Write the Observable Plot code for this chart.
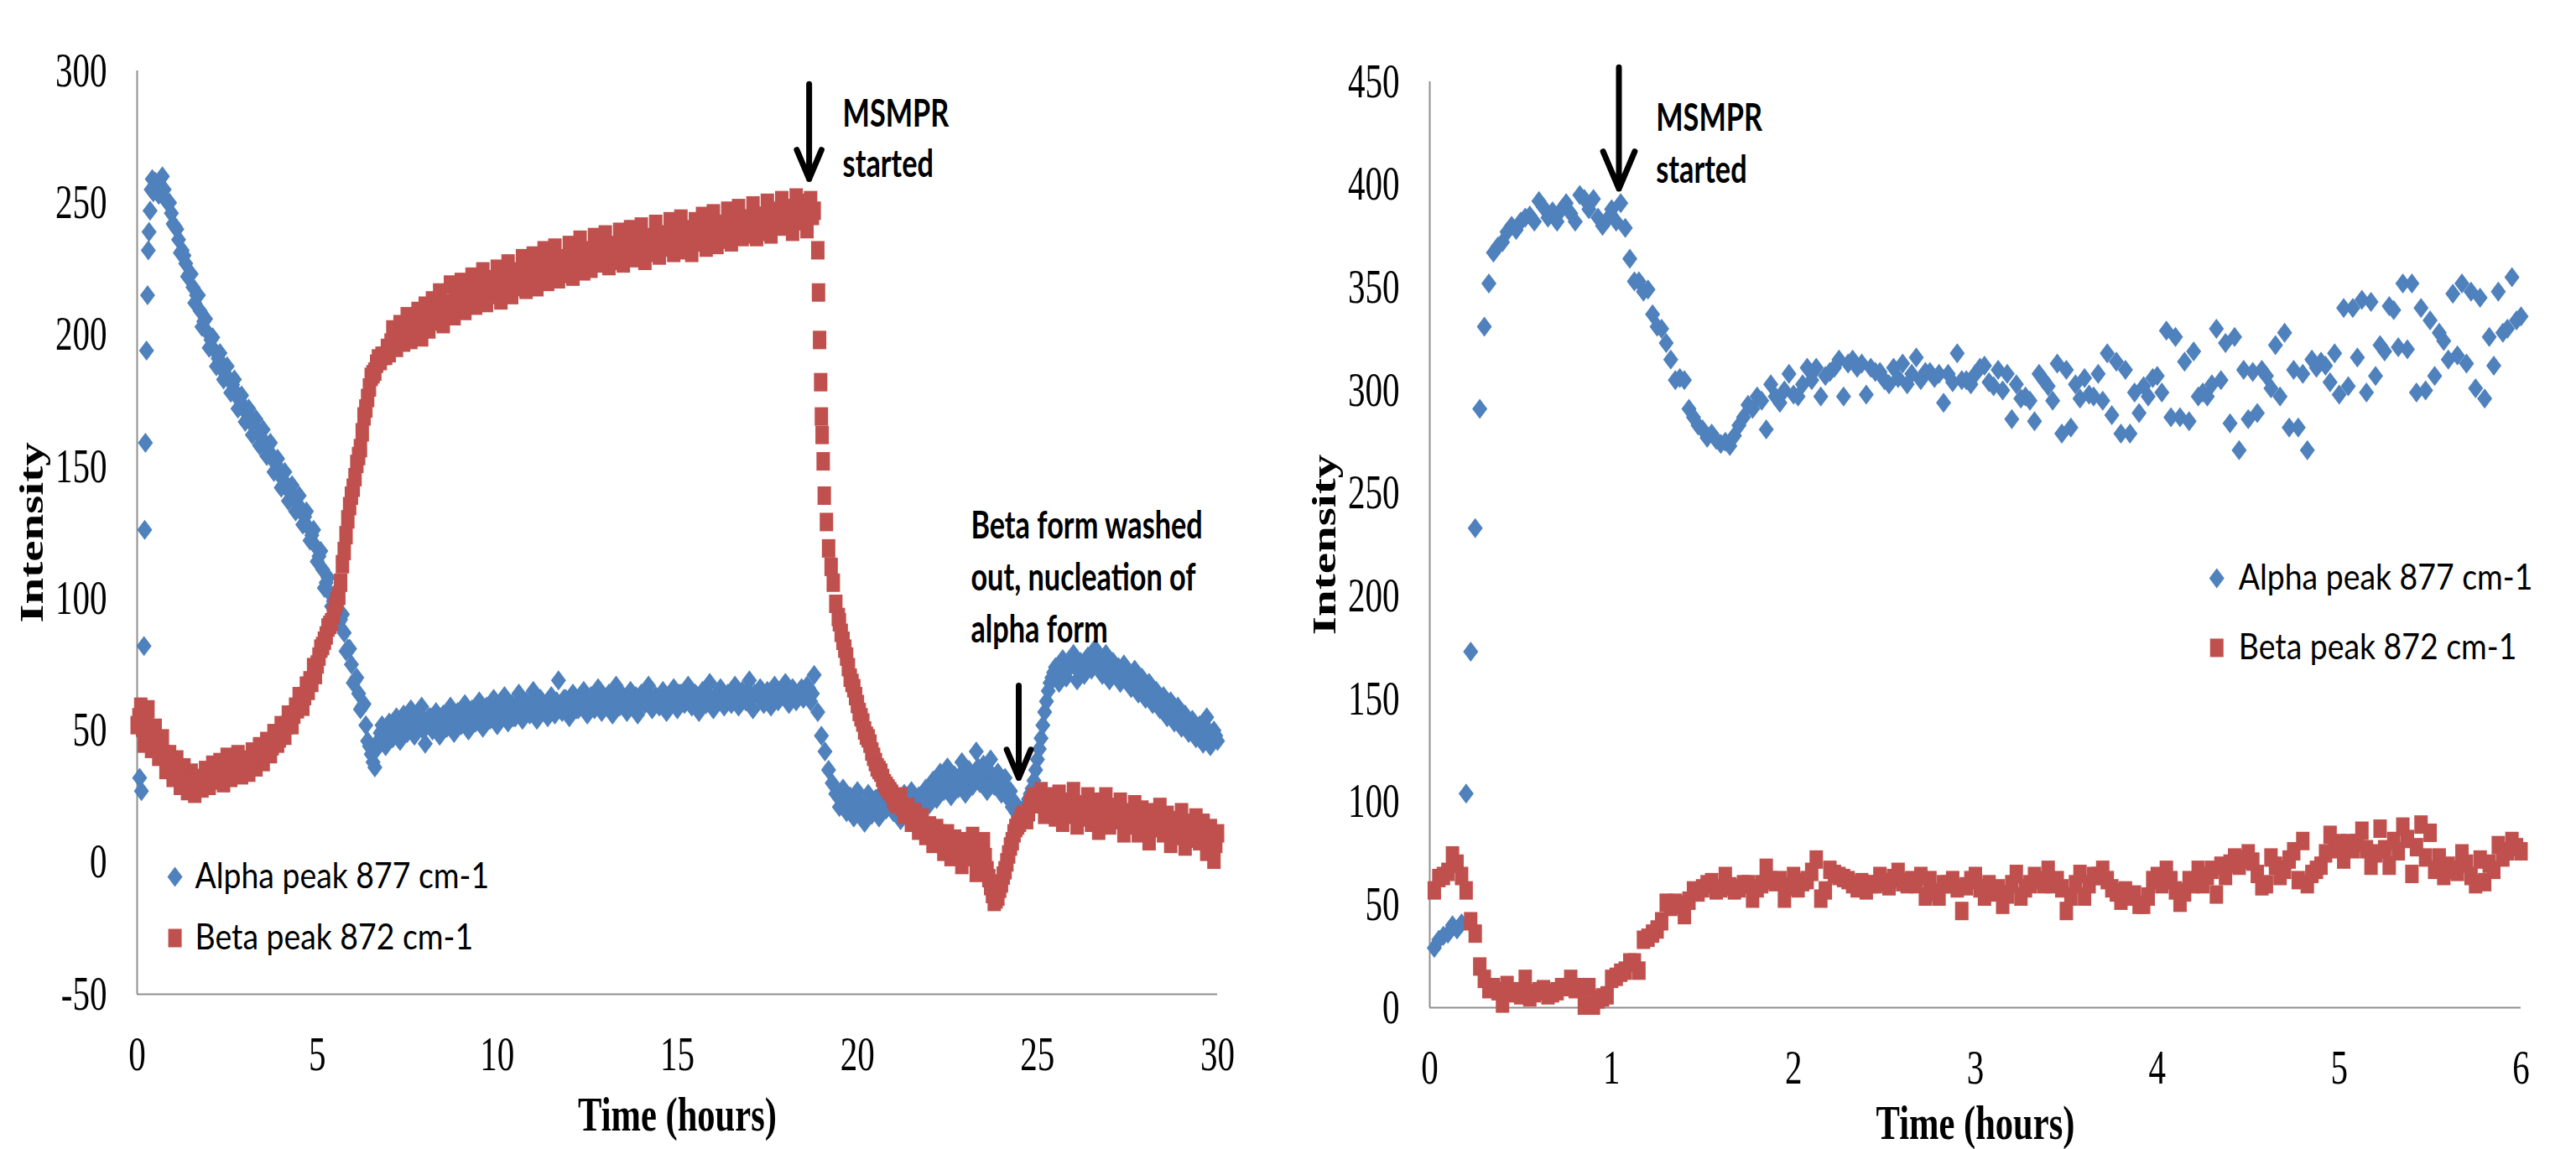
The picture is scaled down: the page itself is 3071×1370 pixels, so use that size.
<!DOCTYPE html>
<html>
<head>
<meta charset="utf-8">
<script src="https://cdn.jsdelivr.net/npm/d3@7"></script>
<script src="https://cdn.jsdelivr.net/npm/@observablehq/plot@0.6"></script>
<style>
  html, body { margin: 0; padding: 0; background: #fff; }
  #wrap { position: relative; width: 3071px; height: 1370px; overflow: hidden; background: #fff; }
  #left { position: absolute; left: 0; top: 0; }
  #right { position: absolute; left: 1520px; top: 0; }
</style>
</head>
<body>
<div id="wrap"><div id="left"></div><div id="right"></div></div>
<script>
// ---------------- DATA ----------------
const seriesNames = ["Alpha peak 877 cm-1", "Beta peak 872 cm-1"];
const xTitle = "Time (hours)";
const yTitle = "Intensity";

const leftXTicks = [0, 5, 10, 15, 20, 25, 30];
const leftYTicks = [-50, 0, 50, 100, 150, 200, 250, 300];
const rightXTicks = [0, 1, 2, 3, 4, 5, 6];
const rightYTicks = [0, 50, 100, 150, 200, 250, 300, 350, 400, 450];

// Left panel (30 h run) - alpha, first fast readings (hours / intensity)
const leftAlphaEarlyT = [0.07, 0.12, 0.19, 0.21, 0.23, 0.26, 0.29, 0.31, 0.33, 0.36, 0.39, 0.42, 0.45];
const leftAlphaEarlyV = [32, 27, 82, 126, 159, 194, 215, 232, 239, 247, 255, 259, 254];
// alpha, from 0.5 h every 0.1 h
const leftAlphaStart = 0.5, leftStep = 0.1;
const leftAlphaMain = [
  258, 253, 260, 251, 250, 242, 240, 231, 230, 222,
  223, 212, 215, 203, 206, 195, 199, 188, 193, 183,
  188, 178, 183, 172, 177, 167, 172, 162, 168, 158,
  164, 154, 159, 148, 153, 142, 148, 137, 143, 133,
  139, 128, 133, 122, 126, 114, 118, 104, 108, 97,
  102, 91, 94, 80, 81, 68, 70, 58, 60, 46,
  41, 36, 46, 52, 44, 53, 47, 55, 46, 56,
  49, 58, 48, 54, 59, 45, 55, 50, 57, 48,
  56, 51, 59, 49, 57, 52, 60, 50, 58, 53,
  61, 51, 59, 54, 62, 52, 58, 63, 53, 60,
  55, 64, 54, 61, 56, 65, 54, 62, 57, 55,
  63, 56, 69, 57, 62, 55, 64, 58, 61, 65,
  56, 63, 58, 66, 57, 62, 64, 56, 67, 59,
  63, 57, 65, 59, 56, 64, 60, 67, 58, 63,
  59, 65, 57, 63, 66, 58, 64, 60, 67, 59,
  64, 57, 65, 60, 68, 58, 63, 66, 59, 64,
  60, 67, 59, 65, 61, 69, 58, 64, 66, 60,
  65, 59, 67, 61, 64, 68, 60, 66, 61, 65,
  62, 67, 61, 71, 57, 48, 42, 35, 30, 26,
  21, 28, 19, 25, 17, 27, 20, 15, 26, 18,
  24, 17, 27, 20, 29, 19, 25, 16, 26, 21,
  27, 19, 25, 20, 28, 22, 31, 24, 34, 27,
  36, 25, 33, 28, 38, 26, 35, 29, 42, 30,
  37, 27, 39, 29, 34, 26, 32, 24, 21, 19,
  17, 20, 22, 26, 31, 39, 47, 57, 65, 70,
  74, 68, 77, 70, 75, 79, 69, 76, 71, 78,
  73, 81, 75, 71, 79, 69, 76, 71, 68, 75,
  69, 66, 73, 64, 70, 62, 68, 60, 65, 58,
  63, 55, 61, 53, 59, 51, 56, 49, 54, 47,
  52, 45, 55, 44, 50, 46
];
// alpha, in-between readings 0.55 h .. 18.75 h every 0.1 h
const leftAlphaFillStartA = 0.55;
const leftAlphaFillA = [
  257, 256, 255, 250, 246, 241, 236, 232, 227, 223,
  218, 215, 209, 205, 201, 198, 194, 191, 188, 185,
  183, 181, 178, 175, 172, 170, 167, 165, 163, 161,
  159, 156, 153, 151, 148, 145, 142, 140, 138, 136,
  133, 131, 127, 124, 120, 116, 111, 106, 102, 99,
  96, 92, 87, 81, 75, 69, 64, 59, 52, 44,
  38, 43, 49, 47, 51, 49, 52, 50, 53, 51,
  54, 52, 51, 56, 50, 53, 55, 52, 54, 51,
  54, 56, 53, 55, 52, 57, 54, 56, 53, 55,
  57, 55, 56, 58, 54, 59, 56, 57, 59, 55,
  59, 57, 60, 58, 61, 57, 59, 60, 57, 61,
  59, 61, 58, 62, 59, 60, 62, 58, 61, 59,
  61, 59, 62, 60, 63, 59, 61, 62, 60, 63,
  60, 62, 61, 63, 60, 62, 64, 61, 62, 60,
  62, 61, 63, 60, 62, 64, 61, 63, 62, 64,
  61, 63, 62, 64, 61, 63, 62, 64, 63, 61,
  63, 64, 62, 63, 65, 62, 64, 63, 65, 62,
  64, 62, 65, 63, 64, 62, 65, 63, 64, 66,
  65, 66, 64
];
// alpha, in-between readings 19.55 h .. 29.95 h every 0.1 h
const leftAlphaFillStartB = 19.55;
const leftAlphaFillB = [
  24, 23, 22, 21, 22, 23, 18, 20, 22, 21,
  21, 22, 23, 24, 22, 23, 21, 20, 23, 24,
  23, 22, 25, 24, 25, 26, 27, 28, 29, 31,
  30, 29, 31, 33, 32, 31, 32, 33, 36, 35,
  32, 34, 33, 31, 30, 29, 28, 27, 23, 21,
  19, 21, 24, 28, 35, 43, 52, 61, 68, 72,
  71, 73, 74, 73, 76, 74, 73, 72, 74, 75,
  77, 78, 74, 75, 73, 72, 73, 74, 71, 72,
  68, 70, 69, 67, 66, 65, 64, 63, 62, 61,
  59, 58, 57, 56, 55, 54, 53, 52, 51, 50,
  49, 48, 50, 47, 48
];
// beta, 0 h .. 18.8 h every 0.1 h
const leftBetaStartA = 0;
const leftBetaA = [
  52, 59, 45, 58, 43, 51, 40, 47, 35, 41,
  32, 39, 29, 36, 27, 34, 26, 32, 28, 35,
  29, 37, 31, 38, 30, 40, 32, 37, 41, 33,
  39, 34, 42, 36, 44, 38, 46, 41, 49, 45,
  52, 48, 56, 52, 59, 63, 59, 67, 69, 74,
  75, 81, 84, 89, 91, 97, 101, 113, 124, 135,
  142, 151, 157, 169, 176, 184, 186, 191, 192, 192,
  193, 202, 195, 204, 197, 207, 198, 205, 209, 199,
  211, 202, 213, 205, 216, 204, 212, 219, 207, 215,
  220, 209, 217, 222, 211, 220, 224, 212, 221, 215,
  225, 213, 222, 227, 215, 224, 218, 229, 217, 225,
  230, 218, 226, 232, 220, 228, 233, 221, 229, 223,
  234, 222, 230, 236, 224, 232, 225, 237, 227, 234,
  238, 226, 234, 228, 239, 227, 235, 240, 229, 236,
  241, 228, 237, 231, 242, 230, 238, 233, 243, 231,
  238, 244, 232, 240, 231, 243, 235, 245, 233, 241,
  246, 234, 242, 236, 247, 235, 243, 248, 237, 244,
  238, 249, 237, 245, 239, 250, 238, 247, 241, 251,
  241, 248, 239, 252, 243, 250, 240, 251, 247
];
// beta, in-between readings 0.05 h .. 18.75 h every 0.1 h
const leftBetaFillStartA = 0.05;
const leftBetaFillA = [
  55, 51, 52, 49, 47, 45, 43, 41, 38, 37,
  35, 33, 32, 31, 30, 30, 29, 30, 31, 31,
  32, 33, 34, 34, 35, 35, 36, 37, 37, 38,
  37, 38, 39, 40, 41, 42, 43, 44, 46, 47,
  50, 52, 54, 56, 58, 61, 63, 65, 68, 71,
  78, 82, 86, 90, 94, 99, 106, 118, 130, 139,
  146, 154, 163, 172, 180, 185, 189, 190, 192, 195,
  197, 199, 198, 201, 200, 202, 201, 204, 203, 206,
  205, 207, 209, 208, 210, 209, 211, 210, 213, 212,
  214, 213, 216, 215, 217, 216, 218, 217, 219, 218,
  220, 219, 221, 220, 222, 221, 223, 220, 222, 224,
  223, 225, 222, 226, 224, 225, 227, 224, 226, 228,
  225, 229, 227, 228, 230, 228, 230, 229, 231, 230,
  232, 231, 233, 230, 232, 233, 232, 234, 231, 235,
  233, 234, 236, 235, 234, 236, 235, 237, 234, 236,
  238, 237, 236, 239, 237, 238, 240, 237, 239, 241,
  238, 240, 239, 242, 240, 241, 240, 242, 244, 241,
  243, 242, 244, 243, 245, 243, 245, 244, 246, 243,
  245, 247, 244, 246, 245, 246, 248, 245
];
// beta, fast fall after MSMPR start
const leftBetaDropT = [18.9, 18.92, 18.95, 18.98, 19.0, 19.02, 19.05, 19.08, 19.14, 19.2, 19.27, 19.33, 19.4, 19.47];
const leftBetaDropV = [232, 216, 198, 182, 169, 162, 152, 139, 129, 119, 112, 106, 98, 93];
// beta, 19.5 h .. 30 h every 0.1 h
const leftBetaStartB = 19.5;
const leftBetaB = [
  91, 84, 78, 70, 66, 60, 55, 50, 47, 42,
  38, 35, 32, 29, 27, 24, 22, 25, 18, 21,
  15, 19, 12, 17, 10, 14, 7, 13, 9, 4,
  11, 2, 9, 5, -1, 8, 2, 10, -4, 6,
  8, -3, -9, -15, -13, -8, -3, 3, 8, 13,
  15, 18, 16, 22, 25, 22, 27, 18, 25, 20,
  17, 26, 15, 23, 18, 27, 14, 22, 17, 25,
  15, 23, 12, 20, 25, 14, 21, 16, 23, 11,
  19, 14, 22, 11, 20, 15, 8, 19, 13, 21,
  11, 18, 7, 16, 10, 19, 6, 15, 9, 17,
  8, 15, 4, 13, 1, 11
];
// beta, in-between readings 19.55 h .. 29.95 h every 0.1 h
const leftBetaFillStartB = 19.55;
const leftBetaFillB = [
  87, 81, 74, 68, 63, 57, 53, 48, 45, 40,
  36, 34, 30, 28, 26, 23, 23, 21, 19, 18,
  17, 15, 15, 13, 12, 11, 10, 11, 7, 8,
  6, 7, 5, 3, 4, 5, 6, 2, 1, 3,
  2, -6, -12, -14, -10, -5, 0, 6, 11, 14,
  17, 17, 19, 23, 23, 24, 22, 22, 21, 20,
  21, 20, 20, 21, 22, 21, 19, 19, 21, 20,
  19, 18, 17, 20, 19, 18, 17, 19, 16, 15,
  17, 16, 15, 16, 17, 14, 13, 15, 16, 15,
  14, 13, 12, 12, 14, 13, 11, 11, 12, 12,
  11, 10, 9, 8, 7
];

// Right panel (6 h run), readings every 0.025 h from 0.025 h
const rightStart = 0.025, rightStep = 0.025;
const rightAlpha = [
  29, 33, 35, 36, 40, 38, 41, 104, 173, 233,
  291, 331, 352, 367, 370, 372, 377, 380, 378, 382,
  384, 385, 382, 392, 389, 384, 387, 382, 388, 391,
  386, 382, 395, 393, 388, 393, 384, 380, 383, 388,
  382, 391, 379, 364, 353, 353, 348, 349, 337, 331,
  330, 323, 315, 305, 306, 305, 291, 287, 283, 281,
  277, 279, 276, 274, 275, 273, 278, 283, 287, 293,
  291, 297, 295, 281, 303, 297, 294, 300, 308, 298,
  297, 303, 311, 305, 311, 297, 307, 309, 311, 315,
  297, 313, 315, 311, 313, 298, 311, 309, 309, 305,
  303, 311, 306, 313, 303, 308, 316, 305, 309, 309,
  306, 308, 294, 308, 304, 318, 305, 305, 303, 308,
  311, 312, 304, 302, 310, 300, 308, 286, 303, 296,
  297, 295, 285, 308, 305, 302, 295, 313, 279, 310,
  282, 303, 296, 306, 298, 297, 308, 295, 318, 288,
  314, 279, 310, 279, 299, 289, 302, 297, 306, 307,
  299, 329, 287, 326, 287, 314, 285, 319, 297, 299,
  297, 303, 330, 305, 323, 284, 326, 271, 310, 286,
  309, 289, 310, 307, 301, 322, 297, 328, 282, 310,
  282, 308, 271, 315, 311, 314, 312, 304, 318, 298,
  340, 302, 340, 316, 344, 299, 343, 307, 322, 319,
  341, 339, 321, 352, 320, 352, 299, 340, 300, 334,
  307, 328, 324, 315, 347, 317, 352, 313, 348, 301,
  345, 296, 326, 312, 348, 328, 330, 355, 334, 336
];
const rightBeta = [
  57, 63, 64, 66, 74, 70, 64, 57, 42, 36,
  20, 14, 9, 10, 8, 2, 11, 7, 8, 6,
  14, 5, 7, 8, 9, 6, 7, 8, 10, 10,
  14, 9, 10, 1, 10, 1, 4, 5, 6, 14,
  15, 17, 18, 22, 22, 18, 33, 34, 36, 38,
  42, 51, 49, 51, 50, 45, 52, 57, 56, 58,
  60, 61, 57, 58, 64, 59, 57, 58, 60, 60,
  53, 58, 60, 68, 62, 61, 62, 53, 59, 64,
  58, 61, 62, 66, 72, 53, 57, 67, 65, 64,
  63, 62, 60, 58, 61, 57, 60, 60, 64, 61,
  59, 63, 66, 61, 60, 62, 60, 64, 54, 62,
  56, 54, 60, 60, 62, 58, 47, 59, 62, 64,
  58, 54, 60, 56, 58, 50, 55, 60, 65, 54,
  58, 60, 64, 62, 60, 67, 60, 62, 58, 47,
  54, 60, 65, 54, 60, 64, 64, 67, 62, 58,
  56, 52, 57, 54, 55, 50, 50, 54, 62, 64,
  60, 67, 62, 57, 51, 56, 62, 60, 67, 60,
  64, 67, 55, 69, 64, 70, 73, 69, 72, 75,
  71, 65, 59, 60, 73, 69, 64, 67, 72, 76,
  62, 81, 60, 65, 67, 69, 75, 84, 77, 80,
  72, 80, 77, 80, 86, 77, 69, 75, 87, 77,
  69, 81, 76, 88, 82, 65, 78, 89, 73, 85,
  67, 73, 64, 69, 67, 66, 75, 70, 64, 60,
  72, 61, 70, 67, 79, 73, 76, 81, 78, 76
];

// Annotations (data coordinates)
const leftArrows = [{t: 18.66, v1: 295, v2: 259}, {t: 24.48, v1: 67, v2: 32}];
const leftNotes = [
  {t: 19.59, v: 283.5, text: "MSMPR"},
  {t: 19.59, v: 264.4, text: "started"},
  {t: 23.15, v: 127.4, text: "Beta form washed"},
  {t: 23.15, v: 107.7, text: "out, nucleation of"},
  {t: 23.15, v: 88.0, text: "alpha form"}
];
const rightArrows = [{t: 1.04, v1: 457, v2: 398}];
const rightNotes = [
  {t: 1.244, v: 432.1, text: "MSMPR"},
  {t: 1.244, v: 406.8, text: "started"}
];
const leftLegend = {tMark: 1.05, tText: 1.607, v: [-5.5, -28.7]};
const rightLegend = {tMark: 4.327, tText: 4.447, v: [208.7, 174.9]};

// ---------------- BUILD ----------------
const blue = "#4F81BD", red = "#C0504D", axisGray = "#8f8f8f";
const serif = "'Liberation Serif', 'Times New Roman', serif";
const sans = "Lato, 'Open Sans', sans-serif";

const seq = (start, step, vals) => vals.map((v, i) => ({t: start + i * step, v}));
const pairs = (ts, vs) => ts.map((t, i) => ({t, v: vs[i]}));

const leftAlpha = [
  ...pairs(leftAlphaEarlyT, leftAlphaEarlyV),
  ...seq(leftAlphaStart, leftStep, leftAlphaMain),
  ...seq(leftAlphaFillStartA, leftStep, leftAlphaFillA),
  ...seq(leftAlphaFillStartB, leftStep, leftAlphaFillB)
];
const leftBeta = [
  ...seq(leftBetaStartA, leftStep, leftBetaA),
  ...seq(leftBetaFillStartA, leftStep, leftBetaFillA),
  ...pairs(leftBetaDropT, leftBetaDropV),
  ...seq(leftBetaStartB, leftStep, leftBetaB),
  ...seq(leftBetaFillStartB, leftStep, leftBetaFillB)
];
const rightA = seq(rightStart, rightStep, rightAlpha);
const rightB = seq(rightStart, rightStep, rightBeta);

const diamond = {draw(ctx, size) { const s = Math.sqrt(size / Math.PI); ctx.moveTo(0, -12 * s); ctx.lineTo(9 * s, 0); ctx.lineTo(0, 12 * s); ctx.lineTo(-9 * s, 0); ctx.closePath(); }};
const block = {draw(ctx, size) { const s = Math.sqrt(size / Math.PI); ctx.rect(-8 * s, -11 * s, 16 * s, 22 * s); }};
const fmt = d => String(d);

function panel({width, marginLeft, marginRight, marginTop, marginBottom, xDomain, yDomain, xTicks, yTicks, alpha, beta, arrows, notes, legend, xTitleDy}) {
  const legendRows = seriesNames.map((name, i) => ({name, v: legend.v[i]}));
  return Plot.plot({
    width, height: 1370, marginLeft, marginRight, marginTop, marginBottom,
    x: {domain: xDomain, label: null},
    y: {domain: yDomain, label: null},
    style: {background: "transparent", overflow: "visible", color: "black"},
    marks: [
      Plot.ruleX([xDomain[0]], {y1: yDomain[0], y2: yDomain[1], stroke: axisGray, strokeWidth: 2}),
      Plot.ruleY([yDomain[0]], {x1: xDomain[0], x2: xDomain[1], stroke: axisGray, strokeWidth: 2}),
      Plot.axisY(yTicks, {tickSize: 0, tickPadding: 36, tickFormat: fmt, fontSize: 57, fontFamily: serif, fill: "black"}),
      Plot.axisX(xTicks, {tickSize: 0, tickPadding: 50, tickFormat: fmt, fontSize: 57, fontFamily: serif, fill: "black"}),
      Plot.dot(alpha, {x: "t", y: "v", symbol: diamond, r: 1, fill: blue}),
      Plot.dot(beta, {x: "t", y: "v", symbol: block, r: 1, fill: red}),
      Plot.dot(legendRows, {x: () => legend.tMark, y: "v", symbol: (d, i) => i, r: 1, fill: (d, i) => i}),
      Plot.text(legendRows, {x: () => legend.tText, y: "v", text: "name", textAnchor: "start", lineAnchor: "middle", fontSize: 42, fontFamily: sans, fill: "black"}),
      Plot.arrow(arrows, {x1: "t", x2: "t", y1: "v1", y2: "v2", stroke: "black", strokeWidth: 7, headAngle: 46, headLength: 12}),
      Plot.text(notes, {x: "t", y: "v", text: "text", textAnchor: "start", lineAnchor: "middle", fontSize: 46, fontWeight: "bold", fontFamily: sans, fill: "black"}),
      Plot.text([yTitle], {frameAnchor: "left", dx: -126, rotate: -90, textAnchor: "middle", lineAnchor: "middle", fontSize: 57, fontWeight: "bold", fontFamily: serif, fill: "black"}),
      Plot.text([xTitle], {frameAnchor: "bottom", dy: xTitleDy, textAnchor: "middle", lineAnchor: "middle", fontSize: 56, fontWeight: "bold", fontFamily: serif, fill: "black"})
    ],
    symbol: {domain: [0, 1], range: [diamond, block]},
    color: {domain: [0, 1], range: [blue, red]}
  });
}

const left = panel({
  width: 1520, marginLeft: 163, marginRight: 69, marginTop: 84, marginBottom: 185,
  xDomain: [0, 30], yDomain: [-50, 300], xTicks: leftXTicks, yTicks: leftYTicks,
  alpha: leftAlpha, beta: leftBeta, arrows: leftArrows, notes: leftNotes, legend: leftLegend, xTitleDy: 145
});
const right = panel({
  width: 1551, marginLeft: 184, marginRight: 66, marginTop: 97, marginBottom: 169,
  xDomain: [0, 6], yDomain: [0, 450], xTicks: rightXTicks, yTicks: rightYTicks,
  alpha: rightA, beta: rightB, arrows: rightArrows, notes: rightNotes, legend: rightLegend, xTitleDy: 139
});
document.getElementById("left").appendChild(left);
document.getElementById("right").appendChild(right);

// condense lettering horizontally like the original (stretched) figure
function squeeze(svg) {
  for (const el of svg.querySelectorAll("text")) {
    if (el.textContent === yTitle) {
      el.setAttribute("transform", (el.getAttribute("transform") || "") + " scale(1,0.72)");
      continue;
    }
    const cs = getComputedStyle(el);
    const isSerif = /Serif/.test(cs.fontFamily.split(",")[0]);
    const bold = cs.fontWeight === "bold" || +cs.fontWeight >= 600;
    const f = isSerif ? (bold ? 0.76 : 0.72) : (bold ? 0.745 : 0.89);
    const L = el.getComputedTextLength();
    if (L > 0) {
      el.setAttribute("textLength", (L * f).toFixed(1));
      el.setAttribute("lengthAdjust", "spacingAndGlyphs");
    }
  }
}
squeeze(left);
squeeze(right);
</script>
</body>
</html>
